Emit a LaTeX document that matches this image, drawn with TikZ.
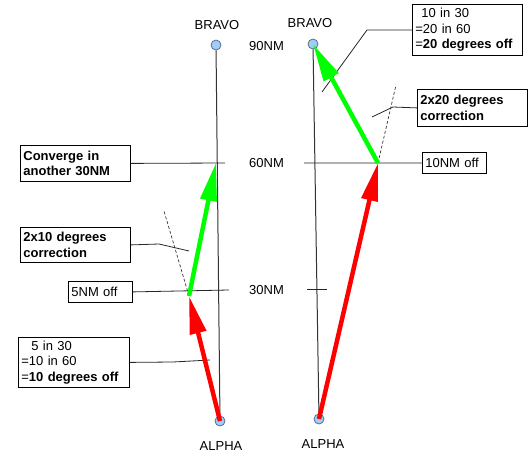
\documentclass[tikz,border=0pt]{standalone}
\usepackage{fontspec}
\setmainfont{Liberation Sans}
\usetikzlibrary{arrows.meta}
\definecolor{wpfill}{RGB}{160,205,250}
\definecolor{wpdraw}{RGB}{90,110,140}

\begin{document}
\begin{tikzpicture}[
  x=1pt, y=-1pt,
  every node/.style={font=\fontsize{13}{15.5}\selectfont},
  wpt/.style={circle, draw=wpdraw, fill=wpfill, line width=0.8pt, inner sep=0pt, minimum size=10pt},
  note/.style={draw, line width=0.8pt, anchor=north west, align=left, inner xsep=3pt, inner ysep=0pt},
  track/.style={draw=black!80, line width=1pt},
  leader/.style={draw=black!85, line width=0.8pt},
  ext/.style={draw=black!80, line width=0.7pt, dash pattern=on 3pt off 2pt},
  leg/.style={line width=4.5pt, -{Triangle[length=38pt, width=16pt]}}
]
\useasboundingbox (0,0) rectangle (531,464);

% waypoints
\node[wpt] (bravoL) at (216,45) {};
\node[wpt] (alphaL) at (220,421) {};
\node[wpt] (bravoR) at (313,44) {};
\node[wpt] (alphaR) at (319,419) {};
\node (bravoLlbl) at (217,25) {BRAVO};
\node (alphaLlbl) at (221,446) {ALPHA};
\node (bravoRlbl) at (310,23) {BRAVO};
\node (alphaRlbl) at (323,444) {ALPHA};

% distance marks
\node[anchor=west, inner sep=0pt] (lbl90) at (249,46) {90NM};
\node[anchor=west, inner sep=0pt] (lbl60) at (249,163) {60NM};
\node[anchor=west, inner sep=0pt] (lbl30) at (249,290) {30NM};

% tracks
\draw[track] (bravoL) -- (alphaL);
\draw[track] (bravoR) -- (alphaR);

% notes
\node[note, text width=104pt, minimum height=36pt] (conv) at (20,145) {\textbf{Converge in}\\\textbf{another 30NM}};
\node[note, text width=104pt, minimum height=35pt] (corr10) at (20,227) {\textbf{2x10 degrees}\\\textbf{correction}};
\node[note, text width=58pt, minimum height=21pt] (off5) at (68,281) {5NM off};
\node[note, text width=105pt, minimum height=50pt] (calc10) at (18,337) {\hspace{10pt}5 in 30\\=10 in 60\\=\textbf{10 degrees off}};
\node[note, text width=104pt, minimum height=51pt] (calc20) at (412,4) {\hspace{6pt}10 in 30\\=20 in 60\\=\textbf{20 degrees off}};
\node[note, text width=104pt, minimum height=37pt] (corr20) at (417,89) {\textbf{2x20 degrees}\\\textbf{correction}};
\node[note, text width=58pt, minimum height=21pt] (off10) at (422,152) {10NM off};

% turn points
\coordinate (kinkL) at (189,296);
\coordinate (kinkR) at (378,163);
\coordinate (meetL) at (216,163);

% ticks and leaders
\coordinate (t60L) at (225,163);
\coordinate (t30L) at (229,290);
\coordinate (t60R) at (304,163);
\coordinate (t30Ra) at (307,289);
\coordinate (t30Rb) at (327,289);
\draw[leader] (conv.east) -- (t60L);
\draw[leader] (off5.east) -- (t30L);
\draw[leader] (t60R) -- (off10.west);
\draw[leader] (t30Ra) -- (t30Rb);
\draw[leader] (corr10.east) -- (159,244) -- (189,251);
\draw[leader] (calc10.east) -- (173,362) -- (210,360);
\draw[leader] (corr20.west) -- (393,107) -- (372,117);
\draw[leader] (calc20.west) -- (367,30) -- (322,92);

% extended headings
\draw[ext] (kinkL) -- (164,211);
\draw[ext] (kinkR) -- (396,85);

% flown legs
\draw[leg, red] (alphaL.center) -- (kinkL);
\draw[leg, green] (kinkL) -- (meetL);
\draw[leg, red] (alphaR.center) -- (kinkR);
\draw[leg, green] (kinkR) -- (bravoR.center);
\end{tikzpicture}
\end{document}
